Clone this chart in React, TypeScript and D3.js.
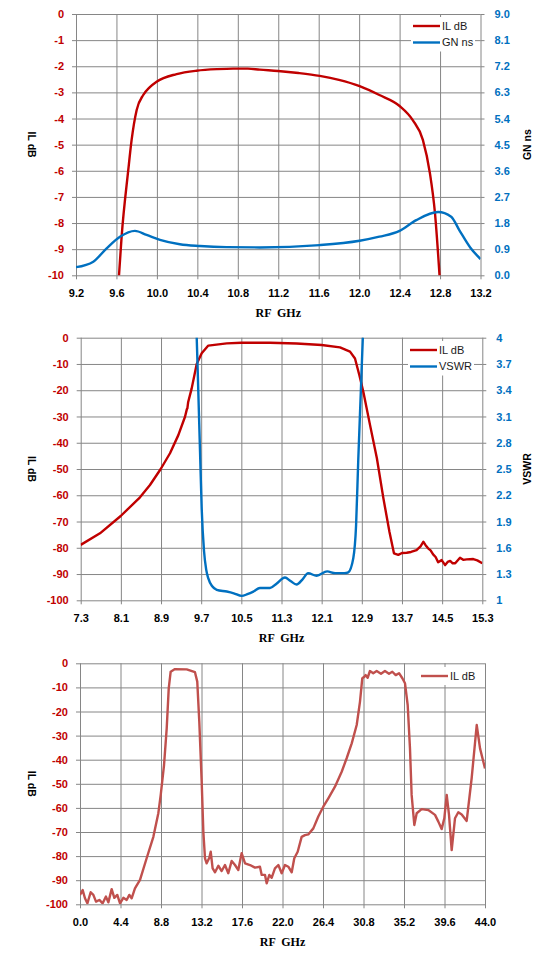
import React, { useRef, useEffect } from 'react';
import * as d3 from 'd3';

// chart 1 - passband detail, IL and group delay
const il1Freq = [9.62, 9.651, 9.717, 9.75, 9.8, 9.865, 9.93, 9.997, 10.195, 10.392, 10.6, 10.754, 10.9, 11.017, 11.198, 11.4, 11.61, 11.8, 12.005, 12.2, 12.4, 12.53, 12.63, 12.7, 12.75, 12.8];
const il1Db = [-10.3, -8.53, -5.97, -4.82, -3.67, -3.1, -2.8, -2.59, -2.3, -2.17, -2.11, -2.09, -2.09, -2.13, -2.18, -2.26, -2.37, -2.52, -2.76, -3.1, -3.52, -4.06, -4.82, -6.1, -7.63, -10.3];
const gn1Freq = [9.2, 9.371, 9.503, 9.635, 9.783, 9.898, 10.03, 10.227, 10.425, 10.688, 11.017, 11.61, 12.005, 12.2, 12.4, 12.565, 12.78, 12.91, 12.99, 13.1, 13.2];
const gn1Ns = [0.28, 0.47, 0.93, 1.33, 1.53, 1.39, 1.22, 1.07, 1.01, 0.97, 0.96, 1.04, 1.19, 1.33, 1.53, 1.9, 2.18, 2.02, 1.56, 0.95, 0.56];
const x1Ticks = [9.2, 9.6, 10.0, 10.4, 10.8, 11.2, 11.6, 12.0, 12.4, 12.8, 13.2];
const il1Ticks = [0, -1, -2, -3, -4, -5, -6, -7, -8, -9, -10];
const gn1Ticks = [0, 0.9, 1.8, 2.7, 3.6, 4.5, 5.4, 6.3, 7.2, 8.1, 9.0];

// chart 2 - wider span, IL and VSWR
const il2Freq = [7.3, 7.684, 8.097, 8.481, 8.68, 8.894, 9.079, 9.245, 9.378, 9.415, 9.425, 9.44, 9.511, 9.611, 9.71, 9.842, 10.21, 10.5, 11.07, 11.6, 12.1, 12.465, 12.665, 12.764, 12.85, 12.93, 13.063, 13.2, 13.33, 13.45, 13.54, 13.627, 13.7, 13.794, 13.88, 13.99, 14.07, 14.125, 14.17, 14.22, 14.27, 14.32, 14.37, 14.42, 14.49, 14.56, 14.61, 14.66, 14.71, 14.76, 14.856, 14.92, 14.99, 15.12, 15.2, 15.3];
const il2Db = [-78.9, -74.5, -67.9, -60.8, -56.1, -50.0, -44.0, -37.1, -30.1, -27.2, -26.9, -24.6, -19.3, -10.0, -5.95, -3.0, -2.15, -1.95, -1.9, -2.2, -2.8, -3.7, -5.3, -7.9, -14.2, -20.6, -33.2, -45.9, -61.2, -73.9, -82.1, -82.7, -82.0, -81.9, -81.6, -80.9, -79.5, -77.7, -79.0, -80.2, -81.0, -82.5, -83.5, -85.5, -84.7, -86.6, -85.4, -85.0, -85.9, -85.9, -83.8, -84.6, -84.4, -84.3, -84.8, -85.9];
const vswrFreq = [9.58, 9.611, 9.643, 9.677, 9.71, 9.757, 9.8, 9.842, 9.92, 10.01, 10.21, 10.35, 10.507, 10.62, 10.74, 10.87, 11.07, 11.2, 11.37, 11.48, 11.6, 11.72, 11.83, 12.0, 12.21, 12.37, 12.55, 12.63, 12.73, 12.786, 12.83, 12.88, 12.92, 12.95];
const vswrVal = [4.4, 4.0, 3.38, 2.7, 2.05, 1.56, 1.35, 1.25, 1.16, 1.12, 1.1, 1.08, 1.05, 1.07, 1.1, 1.14, 1.14, 1.19, 1.26, 1.22, 1.18, 1.24, 1.31, 1.28, 1.33, 1.31, 1.31, 1.32, 1.48, 1.86, 2.62, 3.38, 4.0, 4.4];
const x2Ticks = [7.3, 8.1, 8.9, 9.7, 10.5, 11.3, 12.1, 12.9, 13.7, 14.5, 15.3];
const il2Ticks = [0, -10, -20, -30, -40, -50, -60, -70, -80, -90, -100];
const vswrTicks = [1, 1.3, 1.6, 1.9, 2.2, 2.5, 2.8, 3.1, 3.4, 3.7, 4];

// chart 3 - broadband sweep
const il3Freq = [0, 0.29, 0.54, 0.8, 1.16, 1.45, 1.74, 2.1, 2.46, 2.82, 3.08, 3.44, 3.73, 4.05, 4.35, 4.71, 5.07, 5.36, 5.61, 5.97, 6.52, 7.24, 7.97, 8.51, 8.77, 9.13, 9.42, 9.64, 9.85, 10.32, 11.59, 12.49, 12.74, 12.96, 13.22, 13.4, 13.58, 13.76, 14.05, 14.2, 14.41, 14.67, 15.03, 15.39, 15.75, 16.11, 16.48, 16.84, 17.2, 17.56, 17.93, 18.47, 19.01, 19.55, 19.74, 20.1, 20.28, 20.57, 20.82, 21.18, 21.55, 21.91, 22.27, 22.63, 23.0, 23.28, 23.65, 24.08, 24.44, 24.8, 25.35, 25.89, 26.43, 26.98, 27.7, 28.43, 28.97, 29.52, 30.06, 30.42, 30.67, 30.89, 31.04, 31.25, 31.5, 31.86, 32.23, 32.7, 33.13, 33.57, 33.93, 34.3, 34.66, 35.02, 35.31, 35.6, 35.85, 36.03, 36.32, 36.58, 37.12, 37.84, 38.57, 38.93, 39.29, 39.58, 39.84, 40.09, 40.38, 40.74, 41.1, 41.47, 42.01, 42.55, 43.1, 43.46, 44.0];
const il3Db = [-96.1, -94.1, -97.5, -99.6, -95.0, -96.1, -98.9, -98.2, -99.6, -96.8, -99.2, -93.7, -97.3, -96.1, -99.6, -97.3, -98.2, -96.1, -97.5, -93.4, -89.9, -80.9, -72.0, -62.2, -54.6, -42.2, -27.0, -10.4, -3.5, -2.4, -2.5, -3.7, -7.6, -24.2, -49.1, -69.9, -80.9, -83.0, -80.7, -78.2, -85.1, -86.7, -84.0, -86.2, -83.7, -87.1, -82.0, -83.7, -85.8, -78.8, -83.0, -83.7, -84.8, -84.4, -87.8, -87.8, -91.3, -87.8, -89.0, -85.1, -83.7, -87.1, -83.7, -84.4, -86.7, -80.9, -78.2, -72.0, -71.3, -71.0, -68.5, -63.6, -59.5, -56.0, -51.2, -45.0, -39.4, -33.2, -25.6, -15.9, -6.2, -5.6, -4.9, -6.0, -3.2, -4.1, -3.2, -4.3, -3.2, -4.3, -3.5, -4.9, -4.1, -6.2, -8.3, -17.3, -35.3, -54.6, -67.1, -62.2, -60.5, -60.9, -62.9, -65.7, -68.8, -64.3, -54.6, -62.9, -77.5, -64.3, -61.8, -62.7, -65.4, -47.7, -25.6, -35.3, -43.6];
const x3Ticks = [0, 4.4, 8.8, 13.2, 17.6, 22.0, 26.4, 30.8, 35.2, 39.6, 44.0];
const il3Ticks = [0, -10, -20, -30, -40, -50, -60, -70, -80, -90, -100];

const RED = '#c00000';
const BLUE = '#0070c0';
const GRID = '#868686';
const TICK_FONT = '"Liberation Sans", Arial, sans-serif';

type Series = { name: string; xs: number[]; ys: number[]; color: string; right?: boolean; smooth?: boolean };
type Panel = {
  box: { left: number; right: number; top: number; bottom: number };
  xDomain: [number, number];
  xTicks: number[];
  leftDomain: [number, number];
  leftTicks: number[];
  leftFmt: (d: number) => string;
  leftTitle: string;
  rightDomain?: [number, number];
  rightTicks?: number[];
  rightFmt?: (d: number) => string;
  rightTitle?: string;
  series: Series[];
  legend: { x: number; y: number; w: number };
};

const panels: Panel[] = [
  {
    box: { left: 76, right: 480.5, top: 14, bottom: 275.3 },
    xDomain: [9.2, 13.2],
    xTicks: x1Ticks,
    leftDomain: [-10, 0],
    leftTicks: il1Ticks,
    leftFmt: (d) => String(d),
    leftTitle: 'IL dB',
    rightDomain: [0, 9],
    rightTicks: gn1Ticks,
    rightFmt: (d) => d.toFixed(1),
    rightTitle: 'GN ns',
    series: [
      { name: 'IL dB', xs: il1Freq, ys: il1Db, color: RED, smooth: true },
      { name: 'GN ns', xs: gn1Freq, ys: gn1Ns, color: BLUE, right: true, smooth: true },
    ],
    legend: { x: 413, y: 26, w: 64 },
  },
  {
    box: { left: 80.7, right: 482.3, top: 337.7, bottom: 600.3 },
    xDomain: [7.3, 15.3],
    xTicks: x2Ticks,
    leftDomain: [-100, 0],
    leftTicks: il2Ticks,
    leftFmt: (d) => String(d),
    leftTitle: 'IL dB',
    rightDomain: [1, 4],
    rightTicks: vswrTicks,
    rightFmt: (d) => String(d),
    rightTitle: 'VSWR',
    series: [
      { name: 'IL dB', xs: il2Freq, ys: il2Db, color: RED },
      { name: 'VSWR', xs: vswrFreq, ys: vswrVal, color: BLUE, right: true, smooth: true },
    ],
    legend: { x: 410, y: 350, w: 66 },
  },
  {
    box: { left: 80, right: 485, top: 663.3, bottom: 904.3 },
    xDomain: [0, 44],
    xTicks: x3Ticks,
    leftDomain: [-100, 0],
    leftTicks: il3Ticks,
    leftFmt: (d) => String(d),
    leftTitle: 'IL dB',
    series: [{ name: 'IL dB', xs: il3Freq, ys: il3Db, color: '#c0504d' }],
    legend: { x: 421, y: 676, w: 58 },
  },
];

const App: React.FC = () => {
  const ref = useRef<SVGSVGElement | null>(null);

  useEffect(() => {
    if (!ref.current) return;
    const svg = d3.select(ref.current);
    svg.selectAll('*').remove();

    panels.forEach((p, i) => {
      const { left, right, top, bottom } = p.box;
      const w = right - left;
      const h = bottom - top;
      const x = d3.scaleLinear().domain(p.xDomain).range([left, right]);
      const yL = d3.scaleLinear().domain(p.leftDomain).range([bottom, top]);
      const yR = p.rightDomain ? d3.scaleLinear().domain(p.rightDomain).range([bottom, top]) : null;

      // horizontal grid + left labels
      const gl = svg
        .append('g')
        .attr('transform', `translate(${left},0)`)
        .call(d3.axisLeft(yL).tickValues(p.leftTicks).tickSizeInner(-w).tickSizeOuter(0).tickPadding(12).tickFormat((d) => p.leftFmt(d as number)));
      gl.select('.domain').remove();
      gl.selectAll('line').attr('x1', -4).attr('stroke', GRID);
      gl.selectAll('text').attr('fill', RED).attr('font-family', TICK_FONT).attr('font-weight', 'bold').attr('font-size', 11);

      // vertical grid + bottom labels
      const gb = svg
        .append('g')
        .attr('transform', `translate(0,${bottom})`)
        .call(d3.axisBottom(x).tickValues(p.xTicks).tickSizeInner(-h).tickSizeOuter(0).tickPadding(14).tickFormat((d) => (d as number).toFixed(1)));
      gb.select('.domain').remove();
      gb.selectAll('line').attr('y1', 4).attr('stroke', GRID);
      gb.selectAll('text').attr('fill', '#000').attr('font-family', TICK_FONT).attr('font-weight', 'bold').attr('font-size', 11);

      if (yR && p.rightTicks && p.rightFmt) {
        const gr = svg
          .append('g')
          .attr('transform', `translate(${right},0)`)
          .call(d3.axisRight(yR).tickValues(p.rightTicks).tickSizeInner(4).tickSizeOuter(0).tickPadding(10).tickFormat((d) => p.rightFmt!(d as number)));
        gr.select('.domain').remove();
        gr.selectAll('line').attr('stroke', GRID);
        gr.selectAll('text').attr('fill', BLUE).attr('font-family', TICK_FONT).attr('font-weight', 'bold').attr('font-size', 11);
      }

      // axis titles
      svg
        .append('text')
        .attr('x', (left + right) / 2)
        .attr('y', bottom + 42)
        .attr('text-anchor', 'middle')
        .attr('font-family', '"Liberation Serif", "Times New Roman", serif')
        .attr('font-weight', 'bold')
        .attr('font-size', 12)
        .attr('xml:space', 'preserve')
        .text('RF  GHz');
      svg
        .append('text')
        .attr('transform', `translate(31.5,${(top + bottom) / 2}) rotate(90)`)
        .attr('text-anchor', 'middle')
        .attr('dy', '0.35em')
        .attr('font-family', TICK_FONT)
        .attr('font-weight', 'bold')
        .attr('font-size', 10.5)
        .text(p.leftTitle);
      if (p.rightTitle) {
        svg
          .append('text')
          .attr('transform', `translate(527,${(top + bottom) / 2}) rotate(-90)`)
          .attr('text-anchor', 'middle')
          .attr('dy', '0.35em')
          .attr('font-family', TICK_FONT)
          .attr('font-weight', 'bold')
          .attr('font-size', 10.5)
          .text(p.rightTitle);
      }

      // series, clipped to plot area
      const clipId = `clip-${i}`;
      svg
        .append('clipPath')
        .attr('id', clipId)
        .append('rect')
        .attr('x', left)
        .attr('y', top)
        .attr('width', w)
        .attr('height', h);

      p.series.forEach((s) => {
        const yS = s.right && yR ? yR : yL;
        const pts = s.xs.map((f, k) => [f, s.ys[k]] as [number, number]);
        const line = d3
          .line<[number, number]>()
          .x((d) => x(d[0]))
          .y((d) => yS(d[1]))
          .curve(s.smooth ? d3.curveMonotoneX : d3.curveLinear);
        svg
          .append('path')
          .datum(pts)
          .attr('clip-path', `url(#${clipId})`)
          .attr('fill', 'none')
          .attr('stroke', s.color)
          .attr('stroke-width', 2.4)
          .attr('stroke-linejoin', 'round')
          .attr('d', line);
      });

      // legend, white box hides the grid behind it
      const n = p.series.length;
      svg
        .append('rect')
        .attr('x', p.legend.x - 2)
        .attr('y', p.legend.y - 9)
        .attr('width', p.legend.w)
        .attr('height', (n - 1) * 16.5 + 18)
        .attr('fill', '#fff');
      p.series.forEach((s, k) => {
        const ly = p.legend.y + k * 16.5;
        svg
          .append('line')
          .attr('x1', p.legend.x)
          .attr('x2', p.legend.x + 27)
          .attr('y1', ly)
          .attr('y2', ly)
          .attr('stroke', s.color)
          .attr('stroke-width', 2.4);
        svg
          .append('text')
          .attr('x', p.legend.x + 29)
          .attr('y', ly)
          .attr('dy', '0.36em')
          .attr('font-family', TICK_FONT)
          .attr('font-size', 11)
          .attr('fill', '#1a1a1a')
          .text(s.name);
      });
    });
  }, []);

  return (
    <svg
      ref={ref}
      width={554}
      height={967}
      style={{ position: 'absolute', left: 0, top: 0, background: '#fff' }}
    />
  );
};

export default App;
